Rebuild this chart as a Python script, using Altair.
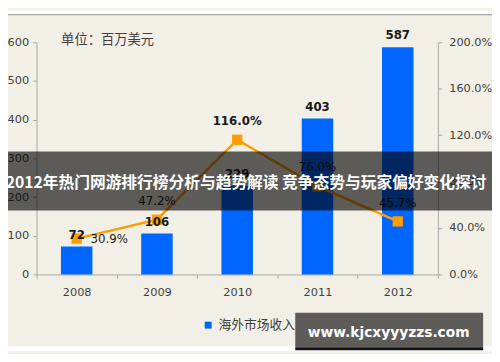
import altair as alt
import pandas as pd

years = ["2008", "2009", "2010", "2011", "2012"]
revenue = [72, 106, 229, 403, 587]
growth = [0.309, 0.472, 1.160, 0.760, 0.457]
series_name = "海外市场收入"
left_ticks = [0, 100, 200, 300, 400, 500, 600]
right_ticks = [0.0, 0.4, 0.8, 1.2, 1.6, 2.0]
unit_text = "单位：百万美元"
banner_text = "2012年热门网游排行榜分析与趋势解读 竞争态势与玩家偏好变化探讨"
watermark_text = "www.kjcxyyyzzs.com"

df = pd.DataFrame({"year": years, "revenue": revenue, "rate": growth,
                   "series": [series_name] * len(years)})
one = pd.DataFrame({"k": [0]})

AX_FONT = "DejaVu Sans"
CJK = "Noto Sans CJK SC"
BLUE = "#0066ff"
ORANGE = "#ff9c00"

xenc = alt.X("year:O", title=None,
             scale=alt.Scale(type="band", paddingInner=0, paddingOuter=0),
             axis=alt.Axis(labelAngle=0, tickBand="extent", tickSize=4,
                           labelPadding=8, domainColor="#a6a6a6", tickColor="#a6a6a6"))

ybar = alt.Y("revenue:Q", title=None, scale=alt.Scale(domain=[0, 600]),
             axis=alt.Axis(orient="left", values=left_ticks, tickSize=4, labelPadding=4,
                           domainColor="#a6a6a6", tickColor="#a6a6a6"))
ybar_noaxis = alt.Y("revenue:Q", title=None, scale=alt.Scale(domain=[0, 600]), axis=None)

bars = alt.Chart(df).mark_bar(size=32).encode(
    x=xenc, y=ybar,
    color=alt.Color("series:N", scale=alt.Scale(range=[BLUE]),
                    legend=alt.Legend(orient="none", legendX=168, legendY=281, title=None,
                                      symbolType="square", symbolSize=50, symbolStrokeWidth=0,
                                      labelFont=CJK, labelFontSize=13, labelColor="#404040",
                                      labelOffset=4, padding=0)))
bar_labels = alt.Chart(df).mark_text(font=AX_FONT, fontSize=12, fontWeight="bold",
                                     color="#1a1a1a", baseline="alphabetic", dy=-8).encode(
    x=xenc, y=ybar_noaxis, text=alt.Text("revenue:Q"))

yrate = alt.Y("rate:Q", title=None, scale=alt.Scale(domain=[0, 2.0]),
              axis=alt.Axis(orient="right", values=right_ticks, format=".1%", tickSize=4,
                            labelPadding=7, domainColor="#a6a6a6", tickColor="#a6a6a6"))

line = alt.Chart(df).mark_line(color=ORANGE, strokeWidth=2.5).encode(x=xenc, y=yrate)
pts = alt.Chart(df).mark_point(shape="square", filled=True, size=110, color=ORANGE,
                               opacity=1).encode(x=xenc, y=yrate)
lab_right = alt.Chart(df).transform_filter(alt.datum.year == "2008").mark_text(
    font=AX_FONT, fontSize=12, color="#1a1a1a", align="left", baseline="middle", dx=14).encode(
    x=xenc, y=yrate, text=alt.Text("rate:Q", format=".1%"))
lab_bold = alt.Chart(df).transform_filter(alt.datum.year == "2010").mark_text(
    font=AX_FONT, fontSize=12, fontWeight="bold", color="#1a1a1a", baseline="alphabetic",
    dy=-15).encode(x=xenc, y=yrate, text=alt.Text("rate:Q", format=".1%"))
lab_above = alt.Chart(df).transform_filter(
    (alt.datum.year != "2008") & (alt.datum.year != "2010")).mark_text(
    font=AX_FONT, fontSize=12, color="#1a1a1a", baseline="alphabetic", dy=-15).encode(
    x=xenc, y=yrate, text=alt.Text("rate:Q", format=".1%"))
rate_layer = alt.layer(line, pts, lab_right, lab_bold, lab_above)

unit = alt.Chart(one).mark_text(text=unit_text, font=CJK, fontSize=13.5, color="#404040",
                                align="left", baseline="middle").encode(
    x=alt.value(25), y=alt.value(-2))

# white page strips above / below the beige panel, and the panel's top border
top_strip = alt.Chart(one).mark_rect(fill="white").encode(
    x=alt.value(-29), x2=alt.value(463), y=alt.value(-32), y2=alt.value(-28))
bot_strip = alt.Chart(one).mark_rect(fill="white").encode(
    x=alt.value(-29), x2=alt.value(463), y=alt.value(309), y2=alt.value(314))
top_line = alt.Chart(one).mark_rule(color="#8c8c8c", strokeWidth=1).encode(
    x=alt.value(-29), x2=alt.value(463), y=alt.value(-28))

banner = alt.Chart(one).mark_rect(fill="black", opacity=0.62).encode(
    x=alt.value(-29), x2=alt.value(463), y=alt.value(111), y2=alt.value(171))
banner_t = alt.Chart(one).mark_text(text=banner_text, font=CJK, fontSize=16, fontWeight="bold",
                                    color="white", align="center", baseline="middle").encode(
    x=alt.value(213), y=alt.value(143))

wm = alt.Chart(one).mark_rect(fill="#5d5c58").encode(
    x=alt.value(263), x2=alt.value(454), y=alt.value(275), y2=alt.value(310))
wm2 = alt.Chart(one).mark_rect(fill="#111111").encode(
    x=alt.value(263), x2=alt.value(454), y=alt.value(310), y2=alt.value(313))
wm_t = alt.Chart(one).mark_text(text=watermark_text, font=AX_FONT, fontSize=14, fontWeight="bold",
                                color="white", align="center", baseline="middle").encode(
    x=alt.value(358), y=alt.value(296))

chart = alt.layer(bars, rate_layer, bar_labels, unit, top_strip, bot_strip, top_line,
                  banner, banner_t, wm, wm2, wm_t).resolve_scale(
    y="independent").properties(
    width=408, height=236,
    autosize=alt.AutoSizeParams(type="none"),
    padding={"left": 29, "top": 32, "right": 55, "bottom": 78},
).configure(background="#f2f0e6").configure_view(stroke=None).configure_axis(
    grid=False, labelFont=AX_FONT, labelFontSize=11.5, labelColor="#404040")

chart.save("out.html", embed_options={"renderer": "svg", "actions": False})
